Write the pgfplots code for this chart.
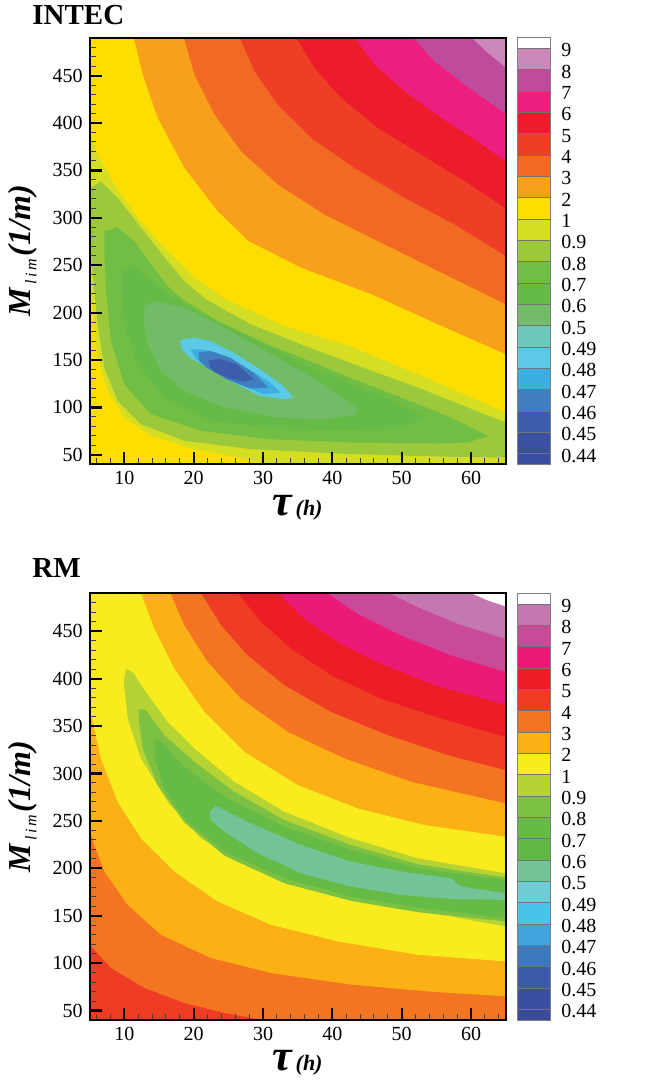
\documentclass[border=0pt]{standalone}
\usepackage{fontspec}
\setmainfont{Liberation Serif}
\usepackage{pgfplots}
\pgfplotsset{compat=1.18}

% colour levels, index 0 = lowest box of the colour bar
\definecolor{Tc0}{HTML}{3A4EA0}\definecolor{Tc1}{HTML}{3A51A2}
\definecolor{Tc2}{HTML}{3C5EAA}\definecolor{Tc3}{HTML}{3F7FC0}
\definecolor{Tc4}{HTML}{3DAEE2}\definecolor{Tc5}{HTML}{5CC9E7}
\definecolor{Tc6}{HTML}{6DC8BA}\definecolor{Tc7}{HTML}{72BC67}
\definecolor{Tc8}{HTML}{66BA47}\definecolor{Tc9}{HTML}{70BE44}
\definecolor{Tc10}{HTML}{9CC83C}\definecolor{Tc11}{HTML}{D6DE23}
\definecolor{Tc12}{HTML}{FEDD00}\definecolor{Tc13}{HTML}{F8A01B}
\definecolor{Tc14}{HTML}{F16A23}\definecolor{Tc15}{HTML}{EE3E25}
\definecolor{Tc16}{HTML}{EC1C2B}\definecolor{Tc17}{HTML}{EC1E7E}
\definecolor{Tc18}{HTML}{BE4B9B}\definecolor{Tc19}{HTML}{CC88BB}
\definecolor{Tc20}{HTML}{FFFFFF}

\definecolor{Bc0}{HTML}{3A4A9D}\definecolor{Bc1}{HTML}{3A4F9F}
\definecolor{Bc2}{HTML}{3B5AA7}\definecolor{Bc3}{HTML}{3C78BC}
\definecolor{Bc4}{HTML}{42A3DA}\definecolor{Bc5}{HTML}{48C4EA}
\definecolor{Bc6}{HTML}{6ECDD4}\definecolor{Bc7}{HTML}{72C496}
\definecolor{Bc8}{HTML}{62B846}\definecolor{Bc9}{HTML}{66BA46}
\definecolor{Bc10}{HTML}{7DC142}\definecolor{Bc11}{HTML}{B6D334}
\definecolor{Bc12}{HTML}{F8EC1F}\definecolor{Bc13}{HTML}{FBB116}
\definecolor{Bc14}{HTML}{F37521}\definecolor{Bc15}{HTML}{EF3C24}
\definecolor{Bc16}{HTML}{EC1D25}\definecolor{Bc17}{HTML}{EB1A76}
\definecolor{Bc18}{HTML}{CA4A9A}\definecolor{Bc19}{HTML}{C477B0}
\definecolor{Bc20}{HTML}{FFFFFF}

\pgfplotsset{
  rmsemap/.style={
    at={(44.85pt,#1)}, anchor=south west, scale only axis,
    width=208pt, height=213.3pt,
    xmin=5, xmax=65, ymin=40, ymax=490,
    axis on top, tick pos=left, tick align=inside,
    xtick={10,20,...,60}, ytick={50,100,...,450},
    minor xtick={6,8,...,64}, minor ytick={40,50,...,490},
    major tick length=6pt, minor tick length=3.2pt,
    major tick style={line width=1.1pt, black},
    minor tick style={line width=0.5pt, black!75},
    axis line style={line width=1.1pt},
    tick label style={font=\fontsize{10}{12}\selectfont},
    /pgf/number format/assume math mode=true,
    xlabel={{\fontsize{22}{24}\selectfont\bfseries\itshape τ}\,{\fontsize{11}{12}\selectfont\bfseries\itshape (h)}},
    ylabel={\textbf{\textit{M}}\raisebox{-0.4ex}{\fontsize{8}{9}\selectfont\itshape\,l\,i\,m\,}\textbf{\textit{(1/m)}}},
    xlabel style={at={(axis description cs:0.5,-0.101)}, anchor=center},
    ylabel style={at={(axis description cs:-0.161,0.5)}, anchor=center,
      font=\fontsize{16}{18}\selectfont},
  },
  cbar/.style={
    at={(258.5pt,#1)}, anchor=south west, scale only axis,
    width=16.5pt, height=213.3pt,
    xmin=0, xmax=1, ymin=0, ymax=20,
    xtick=\empty, ytick={0.5,1.5,...,19.5},
    yticklabels={0.44,0.45,0.46,0.47,0.48,0.49,0.5,0.6,0.7,0.8,0.9,1,2,3,4,5,6,7,8,9},
    yticklabel pos=right, major tick length=0pt,
    yticklabel style={font=\fontsize{10}{12}\selectfont, anchor=west, inner sep=0pt, xshift=5.5pt, yshift=-1pt},
    axis line style={draw=black!50, line width=0.4pt},
    axis on top,
  },
}

\newcommand{\cbox}[3]{\addplot[fill=#1, draw=black!55, line width=0.3pt] coordinates {(0,#2)(1,#2)(1,#3)(0,#3)} --cycle;}
\newcommand{\colourbar}[1]{%
  \cbox{#1c0}{0}{0.5}\cbox{#1c1}{0.5}{1.5}\cbox{#1c2}{1.5}{2.5}\cbox{#1c3}{2.5}{3.5}%
  \cbox{#1c4}{3.5}{4.5}\cbox{#1c5}{4.5}{5.5}\cbox{#1c6}{5.5}{6.5}\cbox{#1c7}{6.5}{7.5}%
  \cbox{#1c8}{7.5}{8.5}\cbox{#1c9}{8.5}{9.5}\cbox{#1c10}{9.5}{10.5}\cbox{#1c11}{10.5}{11.5}%
  \cbox{#1c12}{11.5}{12.5}\cbox{#1c13}{12.5}{13.5}\cbox{#1c14}{13.5}{14.5}\cbox{#1c15}{14.5}{15.5}%
  \cbox{#1c16}{15.5}{16.5}\cbox{#1c17}{16.5}{17.5}\cbox{#1c18}{17.5}{18.5}\cbox{#1c19}{18.5}{19.5}%
  \cbox{#1c20}{19.5}{20}%
  \node[anchor=base west, inner sep=0pt, font=\fontsize{13.5}{15}\selectfont\bfseries\itshape]
    at (rel axis cs:0,1) [yshift=5.5pt] {RMSE (m)};}

\begin{document}
\begin{tikzpicture}
\path[use as bounding box] (0,0) rectangle (326pt,540.5pt);

% ---------------- INTEC ----------------
\begin{axis}[rmsemap=308.35pt]
% each layer: region where RMSE is below a level (contour)
\addplot[fill=Tc19, draw=none] coordinates {(5,40)(65,40)(65,490)(5,490)} --cycle;
\addplot[fill=Tc18, draw=none] coordinates {(60.05,490)(62.45,473.5)(65,458.4)(65,40)(5,40)(5,490)} --cycle;
\addplot[fill=Tc17, draw=none] coordinates {(51.63,490)(54.75,464.7)(59.09,440.2)(65,409.3)(65,40)(5,40)(5,490)} --cycle;
\addplot[fill=Tc16, draw=none] coordinates {(43.21,490)(46.09,461.2)(50.42,433.2)(55.72,405.1)(60.53,382.3)(65,359.5)(65,40)(5,40)(5,490)} --cycle;
\addplot[fill=Tc15, draw=none] coordinates {(34.78,490)(37.43,457.7)(41.28,426.1)(46.57,394.6)(52.83,366.5)(59.09,338.4)(65,309.7)(65,40)(5,40)(5,490)} --cycle;
\addplot[fill=Tc14, draw=none] coordinates {(26.60,490)(28.77,454.2)(32.14,419.1)(36.95,384.0)(43.21,352.4)(50.42,320.9)(57.64,292.8)(65,259.5)(65,40)(5,40)(5,490)} --cycle;
\addplot[fill=Tc13, draw=none] coordinates {(18.57,490)(20.11,450.7)(22.99,408.6)(26.84,370.0)(32.14,334.9)(38.87,303.3)(46.57,275.3)(55.24,243.7)(65,208.6)(65,40)(5,40)(5,490)} --cycle;
\addplot[fill=Tc12, draw=none] coordinates {(11.35,490)(12.65,450.7)(14.81,405.1)(18.66,352.4)(23.47,306.8)(27.90,275.3)(35.51,247.2)(45.71,219.1)(55.24,187.5)(65,156.0)(65,40)(5,40)(5,490)} --cycle;
\addplot[fill=Tc11, draw=none] coordinates {(5,391.1)(6.15,366.5)(8.56,334.9)(11.92,299.8)(16.26,264.7)(20.11,236.7)(24.68,213.9)(33.10,185.8)(42.48,164.7)(52.35,134.9)(59.57,112.1)(65,94.6)(65,40)(30.5,40)(25.88,47.9)(20.11,56.0)(13.85,70.0)(10.0,89.3)(7.59,117.4)(6.15,152.5)(5.43,205.1)(5,243.7)} --cycle;
\addplot[fill=Tc10, draw=none] coordinates {(5,331.4)(6.63,338.4)(9.04,320.9)(12.41,289.3)(16.26,254.2)(18.66,233.2)(21.79,213.9)(28.29,187.5)(35.51,166.5)(42.48,147.2)(52.35,120.9)(59.57,99.8)(65,84.0)(65,47.2)(57.16,47.9)(42.72,50.7)(28.29,56.0)(18.66,64.7)(12.41,82.3)(9.04,106.8)(7.11,141.9)(6.15,187.5)(5.43,240.2)(5,285.8)} --cycle;
\addplot[fill=Tc9, draw=none] coordinates {(7.11,285.8)(9.04,290.0)(11.44,275.3)(13.85,250.7)(16.26,227.9)(18.42,213.9)(23.47,191.1)(30.69,166.5)(37.91,145.4)(42.48,131.4)(49.94,110.4)(57.16,89.3)(62.45,70.0)(59.57,63.0)(54.75,61.9)(42.72,63.0)(30.69,66.5)(21.07,75.3)(13.85,92.8)(10.0,124.4)(8.08,170.0)(7.35,222.6)(7.11,264.7)} --cycle;
\addplot[fill=Tc8, draw=none] coordinates {(9.52,243.7)(11.44,248.9)(16.26,219.1)(21.07,198.1)(28.29,173.5)(37.91,138.4)(47.53,110.4)(53.31,89.3)(49.94,78.8)(40.32,76.0)(30.69,78.8)(22.51,85.8)(15.77,110.4)(11.92,145.4)(10.0,187.5)(9.52,222.6)} --cycle;
\addplot[fill=Tc7, draw=none] coordinates {(12.89,206.8)(14.57,212.1)(18.66,205.1)(24.44,184.0)(31.17,156.0)(37.91,127.9)(43.45,99.8)(43.45,92.8)(38.87,87.5)(32.14,89.3)(24.44,99.8)(18.66,117.4)(15.29,138.4)(13.37,166.5)(12.89,187.5)} --cycle;
\addplot[fill=Tc5, draw=none] coordinates {(18.03,170.0)(18.51,171.8)(19.95,173.5)(22.36,170.0)(25.72,157.8)(29.57,140.2)(32.94,122.7)(34.38,110.4)(32.94,108.6)(29.57,112.1)(25.72,126.2)(22.36,140.2)(19.47,152.5)(18.27,161.3)} --cycle;
\addplot[fill=Tc4, draw=none] coordinates {(19.47,161.3)(20.92,161.3)(23.32,157.8)(27.17,143.7)(31.02,126.2)(32.46,115.7)(30.05,113.9)(26.21,126.2)(22.84,140.2)(20.43,150.7)} --cycle;
\addplot[fill=Tc3, draw=none] coordinates {(20.67,157.8)(22.36,159.5)(25.24,152.5)(28.61,136.7)(30.78,120.9)(28.13,119.9)(24.76,129.7)(21.88,142.0)(20.82,149.0)} --cycle;
\addplot[fill=Tc2, draw=none] coordinates {(22.12,149.7)(23.80,151.4)(26.21,145.5)(28.61,129.7)(27.17,126.9)(24.76,131.4)(22.84,138.5)(22.26,144.4)} --cycle;
\end{axis}
\begin{axis}[cbar=308.35pt]
\colourbar{T}
\end{axis}
\node[anchor=base west, inner sep=0pt, font=\fontsize{14.5}{16}\selectfont\bfseries] at (16pt,528pt) {INTEC};

% ---------------- RM ----------------
\begin{axis}[rmsemap=30.5pt]
\addplot[fill=Bc20, draw=none] coordinates {(5,40)(65,40)(65,490)(5,490)} --cycle;
\addplot[fill=Bc19, draw=none] coordinates {(60.05,490)(62.45,482.3)(65,476.3)(65,40)(5,40)(5,490)} --cycle;
\addplot[fill=Bc18, draw=none] coordinates {(48.26,490)(52.35,475.2)(58.12,457.7)(65,441.9)(65,40)(5,40)(5,490)} --cycle;
\addplot[fill=Bc17, draw=none] coordinates {(39.35,490)(43.69,468.2)(49.94,445.4)(57.16,424.4)(65,406.9)(65,40)(5,40)(5,490)} --cycle;
\addplot[fill=Bc16, draw=none] coordinates {(32.14,490)(35.99,463.0)(40.80,438.4)(47.05,415.6)(54.75,392.9)(65,372.5)(65,40)(5,40)(5,490)} --cycle;
\addplot[fill=Bc15, draw=none] coordinates {(26.36,490)(29.73,459.5)(34.06,431.4)(39.84,403.4)(47.05,378.8)(55.72,357.8)(65,338.5)(65,40)(5,40)(5,490)} --cycle;
\addplot[fill=Bc14, draw=none] coordinates {(21.07,490)(23.96,456.0)(27.81,424.4)(33.10,392.9)(39.84,364.8)(48.02,340.3)(56.68,319.2)(65,303.4)(65,40)(29.97,40)(24.44,47.5)(18.66,58.0)(12.89,73.8)(8.08,94.8)(5,119.4)(5,490)} --cycle;
\addplot[fill=Bc13, draw=none] coordinates {(16.64,490)(18.66,456.0)(22.03,417.4)(26.84,378.8)(33.58,343.8)(41.76,315.7)(51.39,291.2)(65,268.4)(65,65.0)(54.75,69.6)(42.72,77.3)(31.17,89.5)(22.51,105.3)(15.29,129.9)(10.48,161.4)(7.11,196.5)(5,238.6)(5,490)} --cycle;
\addplot[fill=Bc12, draw=none] coordinates {(12.41,490)(14.33,452.5)(17.22,410.4)(21.55,364.8)(27.32,322.7)(35.02,287.7)(43.69,263.1)(53.31,245.6)(65,233.3)(65,101.8)(52.35,108.8)(40.80,122.9)(31.17,140.4)(23.47,165.0)(17.22,196.5)(12.41,231.6)(9.04,270.1)(6.63,315.7)(5,368.3)(5,490)} --cycle;
\addplot[fill=Bc11, draw=none] coordinates {(10.24,410.4)(11.20,406.9)(13.13,385.8)(16.26,354.3)(20.11,326.2)(25.88,291.1)(33.10,259.6)(42.72,231.6)(52.35,210.5)(65,194.7)(65,138.6)(57.16,149.2)(47.53,159.7)(37.91,175.5)(28.29,200.0)(21.07,231.6)(16.26,270.1)(12.41,315.7)(10.48,357.8)(9.90,396.4)} --cycle;
\addplot[fill=Bc10, draw=none] coordinates {(12.16,368.3)(13.13,366.5)(15.77,340.3)(20.11,312.2)(25.88,280.6)(33.10,250.8)(42.72,224.5)(52.35,204.2)(65,190.2)(65,143.9)(52.35,153.7)(42.72,165.6)(33.10,184.2)(24.44,213.3)(18.66,248.4)(14.81,287.7)(12.65,326.2)(12.07,357.8)} --cycle;
\addplot[fill=Bc9, draw=none] coordinates {(14.33,336.8)(15.29,333.2)(18.66,306.9)(24.44,275.4)(33.10,243.8)(42.72,219.3)(52.35,200.0)(65,187.7)(65,147.4)(52.35,158.6)(42.72,170.2)(33.10,189.5)(24.44,217.5)(18.66,252.6)(15.77,284.1)(14.43,315.7)} --cycle;
\addplot[fill=Bc7, draw=none] coordinates {(22.27,259.6)(23.23,265.9)(28.29,247.3)(35.51,224.5)(42.72,207.0)(49.94,196.5)(57.16,189.5)(58.60,180.7)(65,173.7)(65,166.7)(57.16,167.7)(49.94,172.0)(42.72,180.7)(35.51,194.7)(29.25,215.8)(24.44,238.6)(22.51,250.8)} --cycle;
\end{axis}
\begin{axis}[cbar=30.5pt]
\colourbar{B}
\end{axis}
\node[anchor=base west, inner sep=0pt, font=\fontsize{14.5}{16}\selectfont\bfseries] at (16pt,251.5pt) {RM};
\end{tikzpicture}
\end{document}
